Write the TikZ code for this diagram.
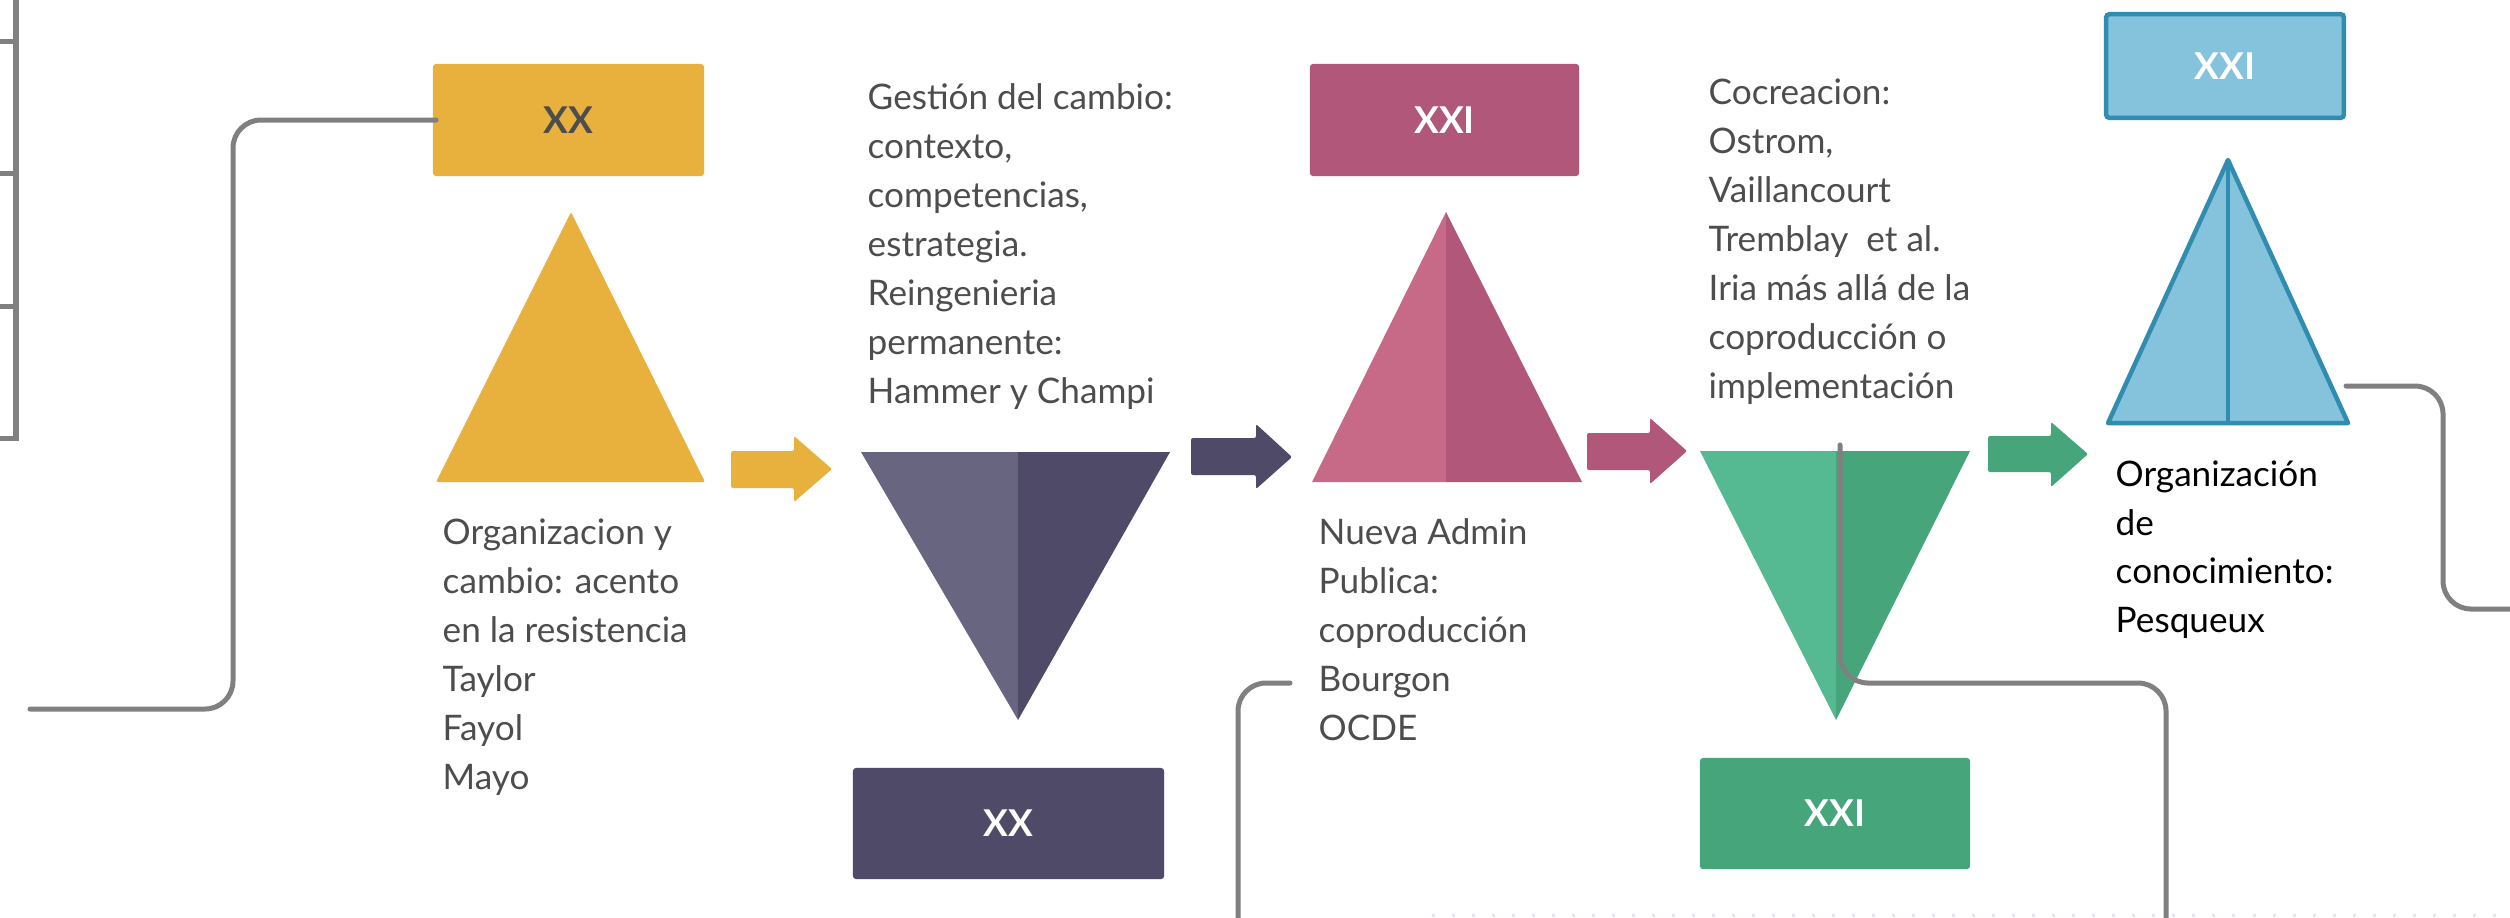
\documentclass[tikz,border=0pt]{standalone}
\usepackage{fontspec}
\setmainfont{Lato}
\definecolor{yel}{HTML}{E8B13E}
\definecolor{purL}{HTML}{686580}
\definecolor{purD}{HTML}{4E4A68}
\definecolor{pinkL}{HTML}{C66A87}
\definecolor{pinkD}{HTML}{B0577A}
\definecolor{grnL}{HTML}{55BA91}
\definecolor{grnD}{HTML}{47A57C}
\definecolor{bluF}{HTML}{85C3DC}
\definecolor{bluS}{HTML}{318DB0}
\definecolor{lgray}{HTML}{808080}
\definecolor{tgray}{HTML}{4D4D4D}
\definecolor{dotc}{HTML}{E6E3F9}
\begin{document}
\begin{tikzpicture}[x=0.01cm,y=-0.01cm]
\tikzset{
  conn/.style={draw=lgray, line width=0.05cm, rounded corners=0.28cm, line cap=round},
  edgeline/.style={draw=lgray, line width=0.05cm},
  box/.style={inner sep=0, rounded corners=0.03cm, font=\fontsize{10.5}{12}\selectfont\bfseries},
  body/.style={inner sep=0, anchor=base west, align=left, text=tgray, font=\fontsize{10}{13.9}\selectfont},
  tri/.style={rounded corners=0.02cm},
  arr/.style={rounded corners=0.02cm},
}
\path[use as bounding box] (0,0) rectangle (2510,917);
\fill[white] (0,0) rectangle (2510,917);

% left edge frame lines
\draw[edgeline] (16,-10) -- (16,438) -- (-10,438);
\draw[edgeline] (-10,41) -- (16,41);
\draw[edgeline] (-10,173) -- (16,173);
\draw[edgeline] (-10,306) -- (16,306);

% faint dotted line at bottom
\draw[dotc, line width=0.03cm, dash pattern=on 0.03cm off 0.17cm] (1432,915) -- (2510,915);

% ---- boxes
\node[box, fill=yel, text=tgray, minimum width=2.71cm, minimum height=1.12cm] (xxA) at (568.5,120) {XX};
\node[box, fill=purD, text=white, minimum width=3.11cm, minimum height=1.11cm] (xxB) at (1008.5,823.5) {XX};
\node[box, fill=pinkD, text=white, minimum width=2.69cm, minimum height=1.12cm] (xxiA) at (1444.5,120) {XXI};
\node[box, fill=grnD, text=white, minimum width=2.70cm, minimum height=1.11cm] (xxiB) at (1835,813.5) {XXI};
\node[box, fill=bluF, draw=bluS, line width=0.045cm, text=white, minimum width=2.375cm, minimum height=1.035cm] (xxiC) at (2225,66) {XXI};

% ---- triangles
\fill[yel, tri] (571,212) -- (705,482) -- (436,482) -- cycle;

\fill[purL] (861,452) -- (1018,452) -- (1018,720) -- cycle;
\fill[purD] (1018,452) -- (1170,452) -- (1018,720) -- cycle;

\fill[pinkL] (1446,212) -- (1446,482) -- (1312,482) -- cycle;
\fill[pinkD] (1446,212) -- (1582,482) -- (1446,482) -- cycle;

\fill[grnL] (1700,451) -- (1836,451) -- (1836,720) -- cycle;
\fill[grnD] (1836,451) -- (1970,451) -- (1836,720) -- cycle;

\filldraw[fill=bluF, draw=bluS, line width=0.045cm, line join=round] (2228,160) -- (2348,423) -- (2108,423) -- cycle;
\draw[bluS, line width=0.045cm] (2228,160) -- (2228,423);

% ---- arrows
\fill[yel, arr] (731,451) -- (794,451) -- (794,436) -- (832,469) -- (794,502) -- (794,488) -- (731,488) -- cycle;
\fill[purD, arr] (1191,438) -- (1256,438) -- (1256,424) -- (1292,457) -- (1256,489) -- (1256,475) -- (1191,475) -- cycle;
\fill[pinkD, arr] (1587,433) -- (1650,433) -- (1650,418) -- (1687,451) -- (1650,484) -- (1650,470) -- (1587,470) -- cycle;
\fill[grnD, arr] (1988,436) -- (2051,436) -- (2051,422) -- (2088,454) -- (2051,487) -- (2051,472) -- (1988,472) -- cycle;

% ---- texts (anchored at the baseline of the last line)
\node[body] (tA) at (442,789) {Organizacion y\\cambio: acento\\en la resistencia\\Taylor\\Fayol\\Mayo};
\node[body] (tB) at (867,403) {Gestión del cambio:\\contexto,\\competencias,\\estrategia.\\Reingenieria\\permanente:\\Hammer y Champi};
\node[body] (tC) at (1318,740) {Nueva Admin\\Publica:\\coproducción\\Bourgon\\OCDE};
\node[body] (tD) at (1708,398) {Cocreacion:\\Ostrom,\\Vaillancourt\\Tremblay\ \ et al.\\Iria más allá de la\\coproducción o\\implementación};
\node[body, text=black, font=\fontsize{10}{13.75}\selectfont] (tE) at (2115,632) {Organización\\de\\conocimiento:\\Pesqueux};

% ---- connectors
\coordinate (l1) at (30,709);
\draw[conn] (l1) -- ++(203,0) |- ([xshift=0.04cm]xxA.west);

\coordinate (b1) at (1290,683);
\coordinate (b2) at (1238,930);
\draw[conn] (b1) -| (b2);

\coordinate (g1) at (1840,445);
\coordinate (gm) at (2166,683);
\coordinate (g2) at (2166,930);
\draw[conn] (g1) |- (gm) -- (g2);

\coordinate (bl1) at (2346,386);
\coordinate (blm) at (2443,386);
\coordinate (bl2) at (2525,609);
\draw[conn] (bl1) -- (blm) |- (bl2);
\end{tikzpicture}
\end{document}
